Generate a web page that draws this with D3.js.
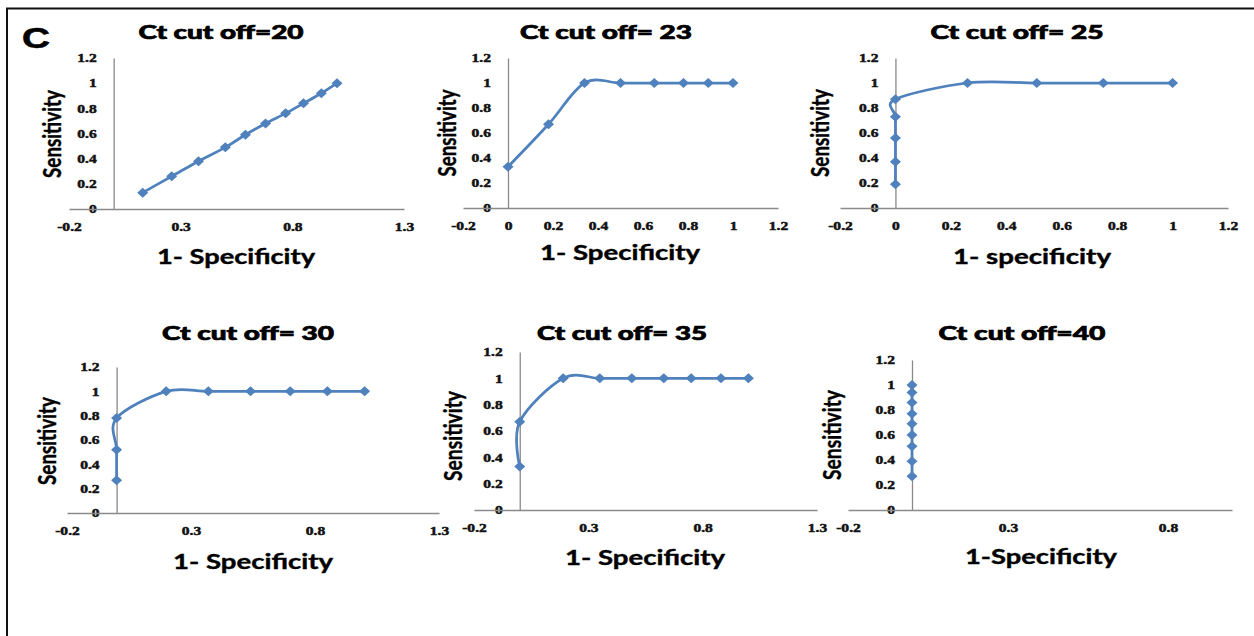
<!DOCTYPE html>
<html>
<head>
<meta charset="utf-8">
<script src="https://cdn.jsdelivr.net/npm/d3@7"></script>
<style>
  html, body { margin: 0; padding: 0; background: #fff; }
  svg { display: block; }
</style>
</head>
<body>
<svg id="chart" width="1254" height="636"></svg>
<script>
// ---------------- data ----------------
const panelTitles = ["Ct cut off=20", "Ct cut off= 23", "Ct cut off= 25", "Ct cut off= 30", "Ct cut off= 35", "Ct cut off=40"];
const xAxisTitles = ["1- Specificity", "1- Specificity", "1- specificity", "1- Specificity", "1- Specificity", "1-Specificity"];
const yAxisTitle = "Sensitivity";
const panelLetter = "C";

const fpr20  = [0.13, 0.26, 0.38, 0.50, 0.59, 0.68, 0.77, 0.85, 0.93, 1.00];
const sens20 = [0.13, 0.26, 0.38, 0.49, 0.59, 0.68, 0.76, 0.84, 0.92, 1.00];

const fpr23  = [0, 0.18, 0.34, 0.50, 0.65, 0.78, 0.89, 1.00];
const sens23 = [0.33, 0.67, 1, 1, 1, 1, 1, 1];

const fpr25  = [0, 0, 0, 0, 0, 0.26, 0.51, 0.75, 1.00];
const sens25 = [0.19, 0.37, 0.56, 0.73, 0.87, 1, 1, 1, 1];

const fpr30  = [0, 0, 0, 0.20, 0.37, 0.54, 0.70, 0.85, 1.00];
const sens30 = [0.27, 0.52, 0.78, 1, 1, 1, 1, 1, 1];

const fpr35  = [0, 0, 0.19, 0.35, 0.49, 0.63, 0.75, 0.88, 1.00];
const sens35 = [0.33, 0.67, 1, 1, 1, 1, 1, 1, 1];

const fpr40  = [0, 0, 0, 0, 0, 0, 0, 0, 0];
const sens40 = [0.27, 0.39, 0.51, 0.60, 0.69, 0.77, 0.86, 0.94, 1.00];

const yTicks = [0, 0.2, 0.4, 0.6, 0.8, 1, 1.2];
const xTicksHalf = [-0.2, 0.3, 0.8, 1.3];
const xTicksFifth = [-0.2, 0, 0.2, 0.4, 0.6, 0.8, 1, 1.2];
const xTicks40 = [-0.2, 0.3, 0.8];

const xDomains = [[-0.2, 1.3], [-0.2, 1.2], [-0.2, 1.2], [-0.2, 1.3], [-0.2, 1.3], [-0.2, 1.0]];
const yDomain = [0, 1.2];

const seriesX = [fpr20, fpr23, fpr25, fpr30, fpr35, fpr40];
const seriesY = [sens20, sens23, sens25, sens30, sens35, sens40];
const xTickSets = [xTicksHalf, xTicksFifth, xTicksFifth, xTicksHalf, xTicksHalf, xTicks40];

// ---------------- layout (pixels) ----------------
const layout = [
  {x0: 69,  x1: 404,  y0: 209, y1: 58,  title: [221, 32, 165],  ylab: [52, 134, 88],  xlab: [236, 257, 158]},
  {x0: 463, x1: 778,  y0: 208, y1: 58,  title: [606, 32, 172],  ylab: [447, 133, 87], xlab: [620, 253, 160]},
  {x0: 840, x1: 1228, y0: 208, y1: 58,  title: [1017, 32, 173], ylab: [820, 133, 88], xlab: [1032, 257, 158]},
  {x0: 67,  x1: 439,  y0: 513, y1: 367, title: [248, 333, 172], ylab: [47, 441, 88],  xlab: [253, 562, 160]},
  {x0: 474, x1: 817,  y0: 510, y1: 352, title: [622, 333, 170], ylab: [453, 436, 90], xlab: [645, 558, 160]},
  {x0: 848, x1: 1232, y0: 510, y1: 360, title: [1022, 333, 167], ylab: [832, 435, 90], xlab: [1041, 557, 152]}
];

const LINE = "#4F81BD";
const AXIS = "#8a8a8a";
const SANS = "Lato, 'Open Sans', 'DejaVu Sans', sans-serif";
const SERIF = "'Liberation Serif', 'DejaVu Serif', serif";

const svg = d3.select("#chart");

// frame
svg.append("path")
  .attr("d", "M7,636 V8.5 H1254")
  .attr("fill", "none")
  .attr("stroke", "#111")
  .attr("stroke-width", 2);

// panel letter
svg.append("text")
  .attr("x", 22).attr("y", 48)
  .attr("font-family", "'Liberation Sans', Arial, sans-serif")
  .attr("font-weight", "bold")
  .attr("font-size", 29)
  .attr("stroke", "#000").attr("stroke-width", 0.6)
  .attr("textLength", 28).attr("lengthAdjust", "spacingAndGlyphs")
  .text(panelLetter);

const fmt = v => String(+v.toFixed(1));
const diamond = "M0,-5 L5.5,0 L0,5 L-5.5,0 Z";

function stretchTicks(sel, k) {
  sel.selectAll(".tick text").each(function() {
    const len = this.getComputedTextLength();
    d3.select(this).attr("textLength", len * k).attr("lengthAdjust", "spacingAndGlyphs");
  });
}

layout.forEach((L, i) => {
  const g = svg.append("g");
  const x = d3.scaleLinear().domain(xDomains[i]).range([L.x0, L.x1]);
  const y = d3.scaleLinear().domain(yDomain).range([L.y0, L.y1]);

  // y axis at x = 0
  const ya = g.append("g")
    .attr("transform", `translate(${x(0)},0)`)
    .call(d3.axisLeft(y).tickValues(yTicks).tickFormat(fmt).tickSize(0).tickPadding(17));
  // x axis at y = 0
  const xa = g.append("g")
    .attr("transform", `translate(0,${y(0)})`)
    .call(d3.axisBottom(x).tickValues(xTickSets[i]).tickFormat(fmt).tickSize(0).tickPadding(14));

  [ya, xa].forEach(a => {
    a.select(".domain").attr("stroke", AXIS).attr("stroke-width", 1.3);
    a.selectAll(".tick line").remove();
    a.selectAll(".tick text")
      .attr("font-family", SERIF)
      .attr("font-weight", "bold")
      .attr("font-size", 11.5)
      .attr("fill", "#111")
      .attr("stroke", "#111").attr("stroke-width", 0.45);
    stretchTicks(a, 1.35);
  });

  // series line
  const pts = seriesX[i].map((v, j) => [v, seriesY[i][j]]);
  const line = d3.line()
    .x(d => x(d[0]))
    .y(d => y(d[1]))
    .curve(d3.curveCardinal.tension(0));
  g.append("path")
    .datum(pts)
    .attr("d", line)
    .attr("fill", "none")
    .attr("stroke", LINE)
    .attr("stroke-width", 2.75)
    .attr("stroke-linejoin", "round");

  g.selectAll(".mk")
    .data(pts)
    .join("path")
    .attr("class", "mk")
    .attr("d", diamond)
    .attr("transform", d => `translate(${x(d[0])},${y(d[1])})`)
    .attr("fill", LINE);

  // title
  g.append("text")
    .attr("x", L.title[0]).attr("y", L.title[1]).attr("dy", "0.36em")
    .attr("text-anchor", "middle")
    .attr("font-family", SANS).attr("font-weight", 900)
    .attr("font-size", 18.5)
    .attr("stroke", "#000").attr("stroke-width", 0.7)
    .attr("textLength", L.title[2]).attr("lengthAdjust", "spacingAndGlyphs")
    .attr("fill", "#000")
    .text(panelTitles[i]);

  // x axis title
  g.append("text")
    .attr("x", L.xlab[0]).attr("y", L.xlab[1]).attr("dy", "0.36em")
    .attr("text-anchor", "middle")
    .attr("font-family", SANS).attr("font-weight", "bold")
    .attr("font-size", 20.5)
    .attr("stroke", "#000").attr("stroke-width", 0.4)
    .attr("textLength", L.xlab[2]).attr("lengthAdjust", "spacingAndGlyphs")
    .attr("fill", "#000")
    .text(xAxisTitles[i]);

  // y axis title
  g.append("text")
    .attr("transform", `translate(${L.ylab[0]},${L.ylab[1]}) rotate(-90)`)
    .attr("dy", "0.36em")
    .attr("text-anchor", "middle")
    .attr("font-family", SANS).attr("font-weight", "bold")
    .attr("font-size", 24)
    .attr("stroke", "#000").attr("stroke-width", 0.4)
    .attr("textLength", L.ylab[2]).attr("lengthAdjust", "spacingAndGlyphs")
    .attr("fill", "#000")
    .text(yAxisTitle);
});
</script>
</body>
</html>
